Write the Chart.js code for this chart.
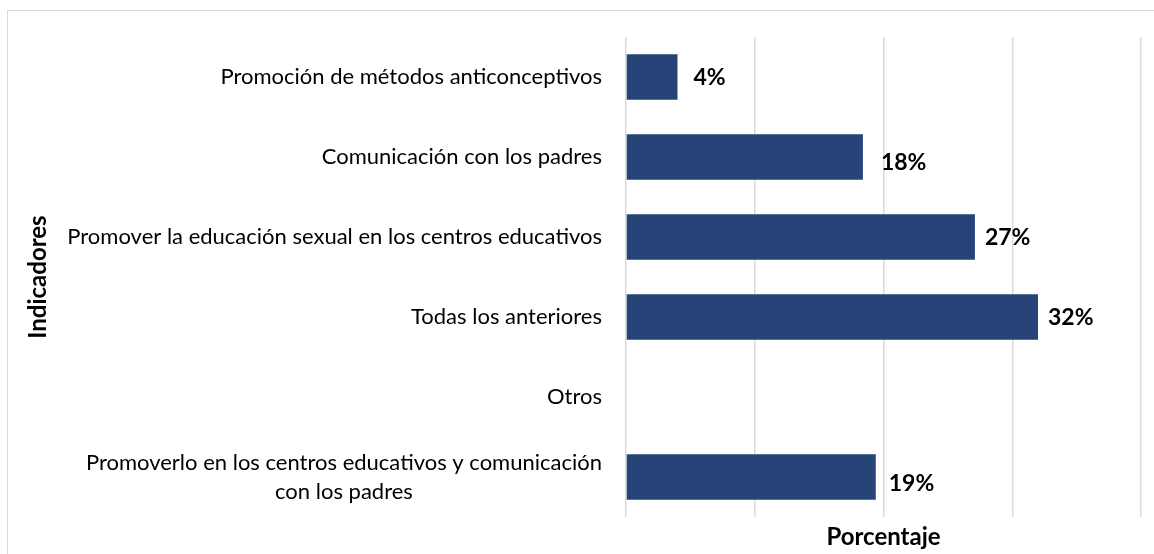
<!DOCTYPE html>
<html lang="es">
<head>
<meta charset="utf-8">
<title>Indicadores</title>
<script src="https://cdn.jsdelivr.net/npm/chart.js@4.4.1/dist/chart.umd.min.js"></script>
<style>
    body { margin: 0; background: #fff; overflow: hidden; }
    #marco { position: absolute; left: 7px; top: 10px; width: 1200px; height: 600px; border: 1px solid #d9d9d9; }
    #grafico { position: absolute; left: 0; top: 0; }
</style>
</head>
<body>
<div id="marco"></div>
<canvas id="grafico" width="1154" height="554"></canvas>
<script>
// ----------- Datos -----------//
const categorias = [
    'Promoción de métodos anticonceptivos',
    'Comunicación con los padres',
    'Promover la educación sexual en los centros educativos',
    'Todas los anteriores',
    'Otros',
    ['Promoverlo en los centros educativos y comunicación', 'con los padres']
];
const porcentajes = [4, 18.4, 27.1, 32, null, 19.4];
const ticksX = [0, 10, 20, 30, 40];

const fuente = 'Lato, "Open Sans", sans-serif';

// etiquetas del eje Y (líneas centradas como en Excel)
const etiquetasY = {
    id: 'etiquetasY',
    afterDraw(chart) {
        const ctx = chart.ctx;
        const y = chart.scales.y;
        const derecha = chart.chartArea.left - 24;
        ctx.save();
        ctx.font = '22px ' + fuente;
        ctx.fillStyle = '#000';
        ctx.textAlign = 'center';
        ctx.textBaseline = 'middle';
        categorias.forEach(function (cat, i) {
            let lineas = Array.isArray(cat) ? cat : [cat];
            let ancho = Math.max.apply(null, lineas.map(l => ctx.measureText(l).width));
            let centro = y.getPixelForValue(i);
            lineas.forEach(function (l, j) {
                ctx.fillText(l, derecha - ancho / 2, centro + (j - (lineas.length - 1) / 2) * 29);
            });
        });
        ctx.restore();
    }
};

// etiquetas de datos al final de cada barra
const etiquetasDatos = {
    id: 'etiquetasDatos',
    afterDatasetsDraw(chart) {
        const ctx = chart.ctx;
        const dx = [16, 18, 10, 10, 0, 13];
        const dy = [1, 6, 1, 1, 0, 7];
        ctx.save();
        ctx.font = 'bold 23px ' + fuente;
        ctx.fillStyle = '#000';
        ctx.textAlign = 'left';
        ctx.textBaseline = 'middle';
        chart.getDatasetMeta(0).data.forEach(function (barra, i) {
            let v = porcentajes[i];
            if (v === null) return;
            ctx.fillText(Math.round(v) + '%', barra.x + dx[i], barra.y + dy[i]);
        });
        ctx.restore();
    }
};

const ctx = document.getElementById('grafico').getContext('2d');

new Chart(ctx, {
    type: 'bar',
    data: {
        labels: categorias,
        datasets: [{
            label: 'Porcentaje',
            data: porcentajes,
            backgroundColor: '#264478',
            borderWidth: 0,
            barPercentage: 0.57,
            categoryPercentage: 1
        }]
    },
    options: {
        indexAxis: 'y',
        responsive: false,
        animation: false,
        layout: {
            padding: { top: 37, right: 13, bottom: 0, left: 0 }
        },
        scales: {
            x: {
                min: ticksX[0],
                max: ticksX[ticksX.length - 1],
                afterBuildTicks: function (scale) {
                    scale.ticks = ticksX.map(v => ({ value: v }));
                },
                afterFit: function (scale) {
                    scale.height = 37;
                },
                ticks: { display: false },
                grid: { color: '#d9d9d9', lineWidth: 1.5, drawTicks: false },
                border: { display: false },
                title: {
                    display: true,
                    text: 'Porcentaje',
                    color: '#000',
                    font: { family: fuente, size: 24, weight: 'bold' },
                    padding: { top: 0, bottom: 2 }
                }
            },
            y: {
                afterFit: function (scale) {
                    scale.width = 626;
                },
                ticks: { display: false },
                grid: { display: false, drawTicks: false },
                border: { display: false },
                title: {
                    display: true,
                    text: 'Indicadores',
                    color: '#000',
                    font: { family: fuente, size: 24, weight: 'bold' },
                    padding: { top: 24, bottom: 0 }
                }
            }
        },
        plugins: {
            legend: { display: false },
            tooltip: { enabled: false }
        }
    },
    plugins: [etiquetasY, etiquetasDatos]
});
</script>
</body>
</html>
